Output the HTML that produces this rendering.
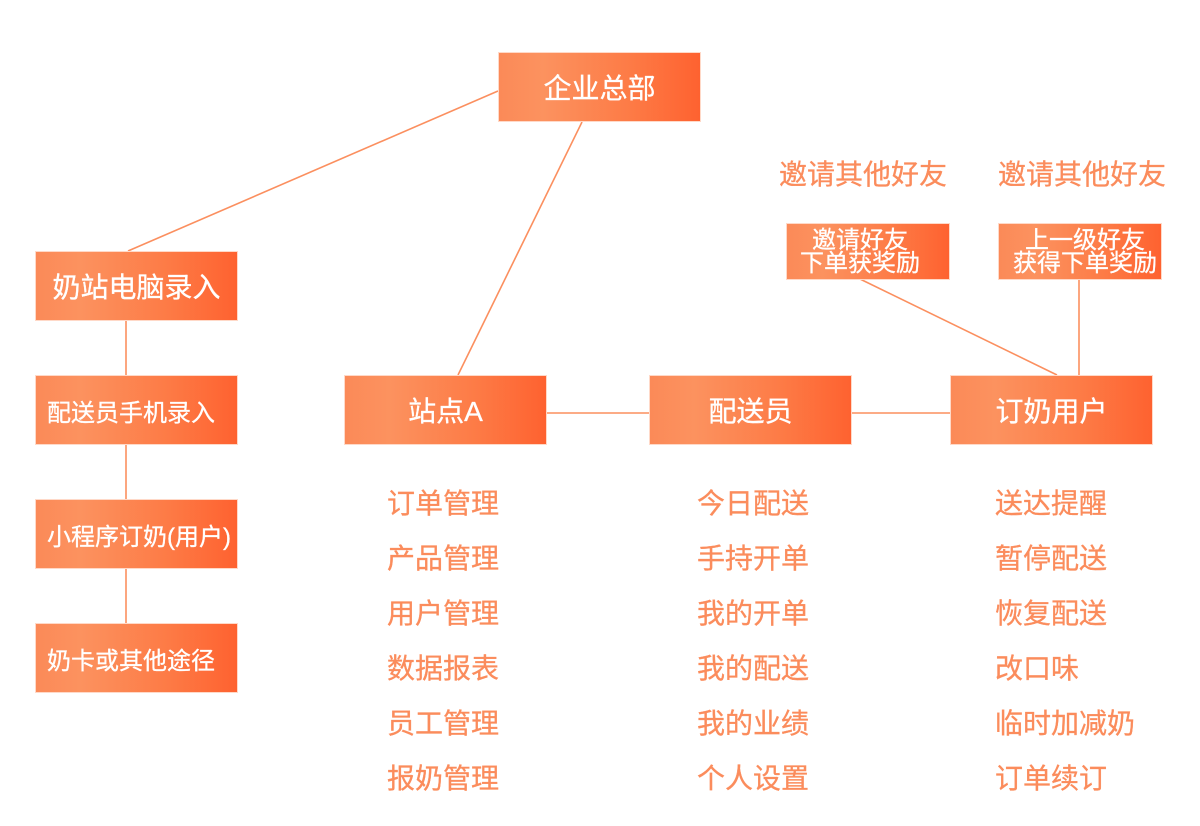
<!DOCTYPE html>
<html>
<head>
<meta charset="utf-8">
<style>
  html, body { margin:0; padding:0; background:#ffffff; }
  body { width:1200px; height:826px; position:relative; overflow:hidden;
    font-family:"Liberation Sans","Noto Sans CJK SC",sans-serif; }
  .box { position:absolute; box-sizing:border-box;
    background:linear-gradient(to right,#fb8a58 0%,#fc925f 22%,#fd7b46 65%,#fe6230 100%);
    color:#ffffff; display:flex; align-items:center; justify-content:center;
    white-space:nowrap; border:1px solid #ffd9c8;
    -webkit-text-stroke:0.3px #ffffff; }
  .big { font-size:28px; }
  .mid { font-size:24px; }
  .lft { justify-content:flex-start; padding-left:11px; }
  .small { font-size:24px; line-height:23px; flex-direction:column; text-align:center; }
  .lbl { position:absolute; color:#fb8c5c; font-size:28px; line-height:32px; white-space:nowrap;
    -webkit-text-stroke:0.3px #fb8c5c; }
  svg { position:absolute; left:0; top:0; }
</style>
</head>
<body>
<svg width="1200" height="826">
  <g stroke="#fb8f5f" stroke-width="1.6" fill="none">
    <line x1="498" y1="91" x2="128" y2="251"/>
    <line x1="582" y1="122" x2="458" y2="375"/>
    <line x1="126" y1="321" x2="126" y2="375"/>
    <line x1="126" y1="445" x2="126" y2="499"/>
    <line x1="126" y1="569" x2="126" y2="623"/>
    <line x1="547" y1="413" x2="649" y2="413"/>
    <line x1="852" y1="413" x2="950" y2="413"/>
    <line x1="860" y1="279" x2="1057" y2="375"/>
    <line x1="1079" y1="279" x2="1079" y2="375"/>
  </g>
</svg>

<div class="box big" style="left:498px;top:52px;width:203px;height:70px;">企业总部</div>

<div class="box big" style="left:35px;top:251px;width:203px;height:70px;">奶站电脑录入</div>
<div class="box mid lft" style="left:35px;top:375px;width:203px;height:70px;">配送员手机录入</div>
<div class="box mid lft" style="left:35px;top:499px;width:203px;height:70px;">小程序订奶(用户)</div>
<div class="box mid lft" style="left:35px;top:623px;width:203px;height:70px;">奶卡或其他途径</div>

<div class="box big" style="left:344px;top:375px;width:203px;height:70px;">站点A</div>
<div class="box big" style="left:649px;top:375px;width:203px;height:70px;">配送员</div>
<div class="box big" style="left:950px;top:375px;width:203px;height:70px;">订奶用户</div>

<div class="box small" style="left:786px;top:223px;width:164px;height:57px;padding-right:16px;padding-top:1px;"><span>邀请好友</span><span>下单获奖励</span></div>
<div class="box small" style="left:998px;top:223px;width:164px;height:57px;padding-left:10px;padding-top:1px;"><span>上一级好友</span><span>获得下单奖励</span></div>

<div class="lbl" style="left:779px;top:159px;">邀请其他好友</div>
<div class="lbl" style="left:998px;top:159px;">邀请其他好友</div>

<div class="lbl" style="left:387px;top:488px;">订单管理</div>
<div class="lbl" style="left:387px;top:543px;">产品管理</div>
<div class="lbl" style="left:387px;top:598px;">用户管理</div>
<div class="lbl" style="left:387px;top:653px;">数据报表</div>
<div class="lbl" style="left:387px;top:708px;">员工管理</div>
<div class="lbl" style="left:387px;top:763px;">报奶管理</div>

<div class="lbl" style="left:697px;top:488px;">今日配送</div>
<div class="lbl" style="left:697px;top:543px;">手持开单</div>
<div class="lbl" style="left:697px;top:598px;">我的开单</div>
<div class="lbl" style="left:697px;top:653px;">我的配送</div>
<div class="lbl" style="left:697px;top:708px;">我的业绩</div>
<div class="lbl" style="left:697px;top:763px;">个人设置</div>

<div class="lbl" style="left:995px;top:488px;">送达提醒</div>
<div class="lbl" style="left:995px;top:543px;">暂停配送</div>
<div class="lbl" style="left:995px;top:598px;">恢复配送</div>
<div class="lbl" style="left:995px;top:653px;">改口味</div>
<div class="lbl" style="left:995px;top:708px;">临时加减奶</div>
<div class="lbl" style="left:995px;top:763px;">订单续订</div>
</body>
</html>
